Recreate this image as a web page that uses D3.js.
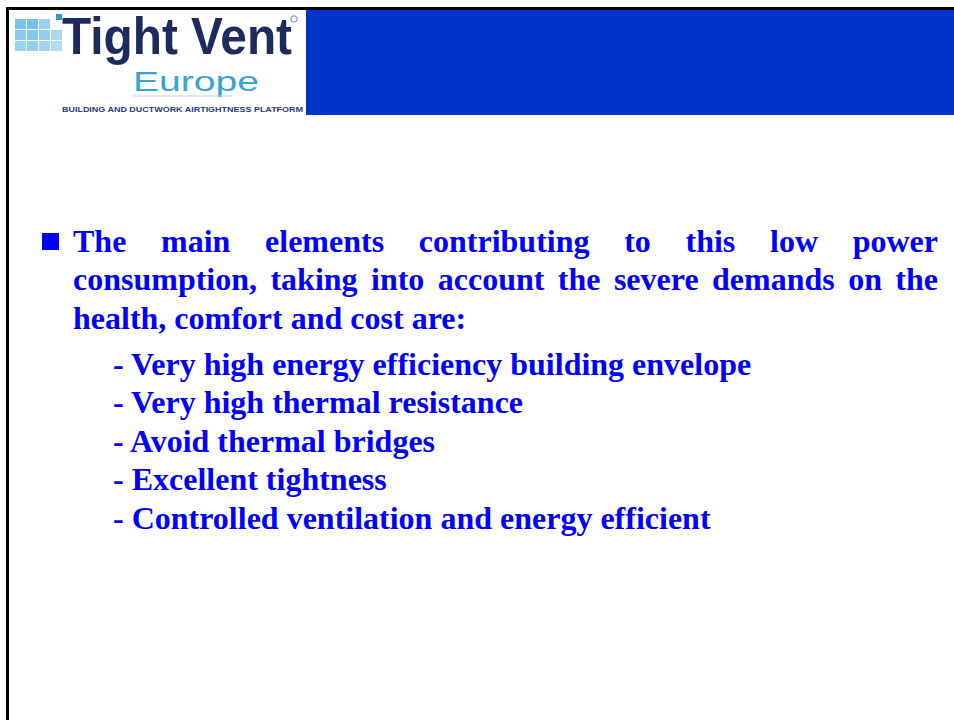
<!DOCTYPE html>
<html>
<head>
<meta charset="utf-8">
<script src="https://cdn.jsdelivr.net/npm/d3@7"></script>
<style>
html,body{margin:0;padding:0;background:#fff;}
svg{display:block;}
</style>
</head>
<body>
<svg id="slide" width="954" height="720"></svg>
<script>
// ---- content ----
const introLines = [
  "The main elements contributing to this low power",
  "consumption, taking into account the severe demands on the",
  "health, comfort and cost are:"
];
const justified = [true, true, false];
const subItems = [
  "- Very high energy efficiency building envelope",
  "- Very high thermal resistance",
  "- Avoid thermal bridges",
  "- Excellent tightness",
  "- Controlled ventilation and energy efficient"
];
const logoTitle = "Tight Vent";
const logoSub = "Europe";
const logoTag = "BUILDING AND DUCTWORK AIRTIGHTNESS PLATFORM";
// logo tile grid: [col, row, shade]
const tileCols = [0, 1, 2, 0, 1, 2, 3, 0, 1, 2, 3];
const tileRows = [0, 0, 0, 1, 1, 1, 1, 2, 2, 2, 2];
const tileShade = [0.6, 0.65, 0.4, 0.5, 0.55, 0.45, 0.3, 0.4, 0.45, 0.35, 0.25];

const svg = d3.select("#slide");
const W = 954, H = 720;

// frame lines
svg.append("rect").attr("x", 6).attr("y", 7).attr("width", W - 6).attr("height", 3).attr("fill", "#000");
svg.append("rect").attr("x", 6).attr("y", 7).attr("width", 3).attr("height", H - 7).attr("fill", "#000");

// blue header
svg.append("rect").attr("x", 306).attr("y", 10).attr("width", W - 306).attr("height", 105).attr("fill", "#0033CC");

// logo
const logo = svg.append("g");
const tx = d3.scaleLinear().domain([0, 1]).range([15, 27]);
const ty = d3.scaleLinear().domain([0, 1]).range([19, 30]);
const shade = d3.interpolateRgb("#d8effa", "#3aa6e0");
logo.selectAll("rect.tile").data(tileCols).join("rect")
  .attr("class", "tile")
  .attr("x", (d, i) => tx(d))
  .attr("y", (d, i) => ty(tileRows[i]))
  .attr("width", 11).attr("height", 10)
  .attr("fill", (d, i) => shade(tileShade[i]));
logo.append("rect").attr("x", 56).attr("y", 14).attr("width", 6).attr("height", 6).attr("fill", "#2a9ad6");

const LOGOFONT = "'Liberation Sans', Arial, sans-serif";
logo.append("text").text(logoTitle)
  .attr("x", 62).attr("y", 54)
  .attr("font-family", LOGOFONT)
  .attr("font-weight", 700).attr("font-size", 52)
  .attr("textLength", 230).attr("lengthAdjust", "spacingAndGlyphs")
  .attr("fill", "#1d2a5e");
logo.append("circle").attr("cx", 294).attr("cy", 19).attr("r", 3.2).attr("fill", "none").attr("stroke", "#7a7f9a").attr("stroke-width", 1);
logo.append("text").text(logoSub)
  .attr("x", 133).attr("y", 91)
  .attr("font-family", LOGOFONT)
  .attr("font-weight", 400).attr("font-size", 28)
  .attr("textLength", 126).attr("lengthAdjust", "spacingAndGlyphs")
  .attr("fill", "#3aa3d6");
logo.append("line").attr("x1", 133).attr("x2", 232).attr("y1", 96).attr("y2", 96)
  .attr("stroke", "#c8cdd8").attr("stroke-width", 1);
logo.append("text").text(logoTag)
  .attr("x", 62).attr("y", 112)
  .attr("font-family", LOGOFONT)
  .attr("font-weight", 700).attr("font-size", 7.5)
  .attr("textLength", 241).attr("lengthAdjust", "spacingAndGlyphs")
  .attr("fill", "#2a3a78");

// body text
const FONT = "'Liberation Serif', 'Times New Roman', serif";
const FS = 32, LH = 38.4;
const blue = "#0000FF";
const left = 73, right = 938;
const base0 = 252;

svg.append("rect").attr("x", 42).attr("y", 233).attr("width", 17).attr("height", 17).attr("fill", blue);

const body = svg.append("g").attr("font-family", FONT).attr("font-weight", 700)
  .attr("font-size", FS).attr("fill", blue);

introLines.forEach((line, li) => {
  const y = base0 + li * LH;
  if (!justified[li]) {
    body.append("text").attr("x", left).attr("y", y).text(line);
    return;
  }
  const words = line.split(" ");
  const nodes = words.map(w => body.append("text").attr("y", y).text(w));
  const widths = nodes.map(n => n.node().getComputedTextLength());
  const total = d3.sum(widths);
  const gap = (right - left - total) / (words.length - 1);
  let x = left;
  nodes.forEach((n, i) => { n.attr("x", x); x += widths[i] + gap; });
});

const subBase = 375;
body.selectAll("text.sub").data(subItems).join("text")
  .attr("class", "sub")
  .attr("x", 113)
  .attr("y", (d, i) => subBase + i * LH)
  .text(d => d);
</script>
</body>
</html>
